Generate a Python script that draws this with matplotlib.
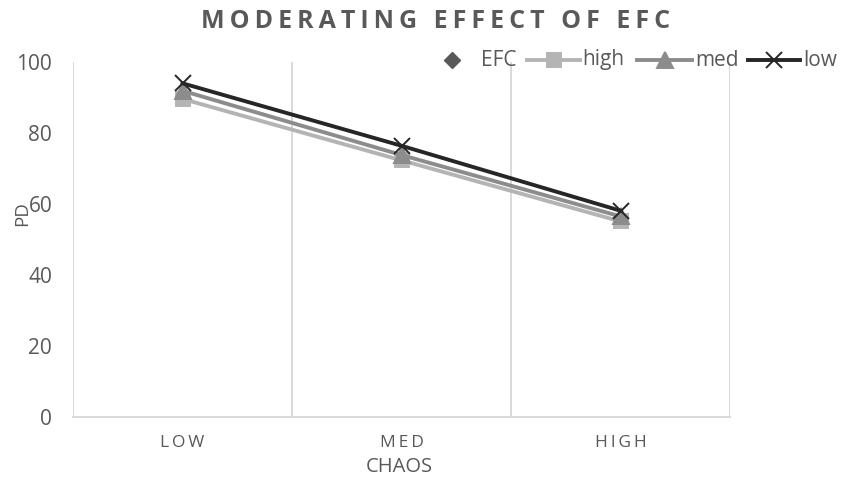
import matplotlib
matplotlib.use('Agg')
import matplotlib.pyplot as plt
from matplotlib.lines import Line2D

plt.rcParams['font.family'] = ['Open Sans', 'DejaVu Sans']

chaos = ['LOW', 'MED', 'HIGH']
pd_high = [89.6, 72.3, 55.1]
pd_med = [91.9, 73.8, 56.5]
pd_low = [94.0, 76.4, 58.1]

grey_txt = '#595959'
grid_col = '#D9D9D9'
W, H = 842, 479

# colour, marker, marker size for each level of EFC
styles = {
    'high': ('#B4B4B4', 's', 10),
    'med': ('#8C8C8C', '^', 11),
    'low': ('#262626', 'x', 11),
}


def spaced(s, gap='\u2009'):
    return gap.join(s)


def fx(px):
    return px / W


def fy(py):
    return 1 - py / H


fig = plt.figure(figsize = (8.42, 4.79), dpi = 100)
ax = fig.add_axes([fx(73), fy(417), 657 / W, 355 / H])

x = list(range(len(chaos)))
for i, (name, vals) in enumerate([('high', pd_high), ('med', pd_med), ('low', pd_low)]):
    col, mk, ms = styles[name]
    ax.plot(x, vals, color = col, lw = 2.8, marker = mk, ms = ms, mew = 1.4,
            mec = col, mfc = col, label = name, zorder = 3 + i)

ax.set_xlim(-0.5, len(chaos) - 0.5)
ax.set_ylim(0, 100)
ax.set_yticks([0, 20, 40, 60, 80, 100])
ax.set_xticks(x)
ax.set_xticklabels([spaced(c, '\u2009') for c in chaos], fontsize = 12.5, color = grey_txt)
ax.tick_params(axis = 'y', length = 0, labelsize = 15, labelcolor = grey_txt, pad = 15)
ax.tick_params(axis = 'x', length = 0, pad = 13)

# vertical separators between categories
for b in [-0.5, 0.5, 1.5, 2.5]:
    ax.axvline(b, color = grid_col, lw = 1.4, zorder = 1)
for side in ['top', 'right', 'left']:
    ax.spines[side].set_visible(False)
ax.spines['bottom'].set_color(grid_col)
ax.spines['bottom'].set_linewidth(1.4)

fig.text(fx(399), fy(467), 'CHAOS', ha = 'center', va = 'center',
         fontsize = 14.5, color = grey_txt)
fig.text(fx(22), fy(214), 'PD', ha = 'center', va = 'center',
         rotation = 90, fontsize = 13.5, color = grey_txt)
fig.text(fx(436), fy(22), spaced('MODERATING EFFECT OF EFC', '\u200a\u200a'),
         ha = 'center', va = 'center', fontsize = 18, fontweight = 'bold',
         color = grey_txt)

# legend drawn by hand across the top right
ly = fy(60)
fig.add_artist(Line2D([fx(452)], [ly], ls = 'none', marker = 'D', ms = 8,
                      color = grey_txt, transform = fig.transFigure))
fig.text(fx(481), ly, 'EFC', ha = 'left', va = 'center', fontsize = 15, color = grey_txt)
for name, x0, x1, tx in [('high', 527, 580, 582), ('med', 637, 692, 695), ('low', 748, 800, 803)]:
    col, mk, ms = styles[name]
    fig.add_artist(Line2D([fx(x0), fx(x1)], [ly, ly], color = col, lw = 2.8,
                          transform = fig.transFigure))
    fig.add_artist(Line2D([fx((x0 + x1) / 2)], [ly], ls = 'none', marker = mk,
                          ms = ms, mew = 1.4, color = col, transform = fig.transFigure))
    fig.text(fx(tx), ly, name, ha = 'left', va = 'center', fontsize = 15, color = grey_txt)

fig.savefig('out.png', dpi = 100)
